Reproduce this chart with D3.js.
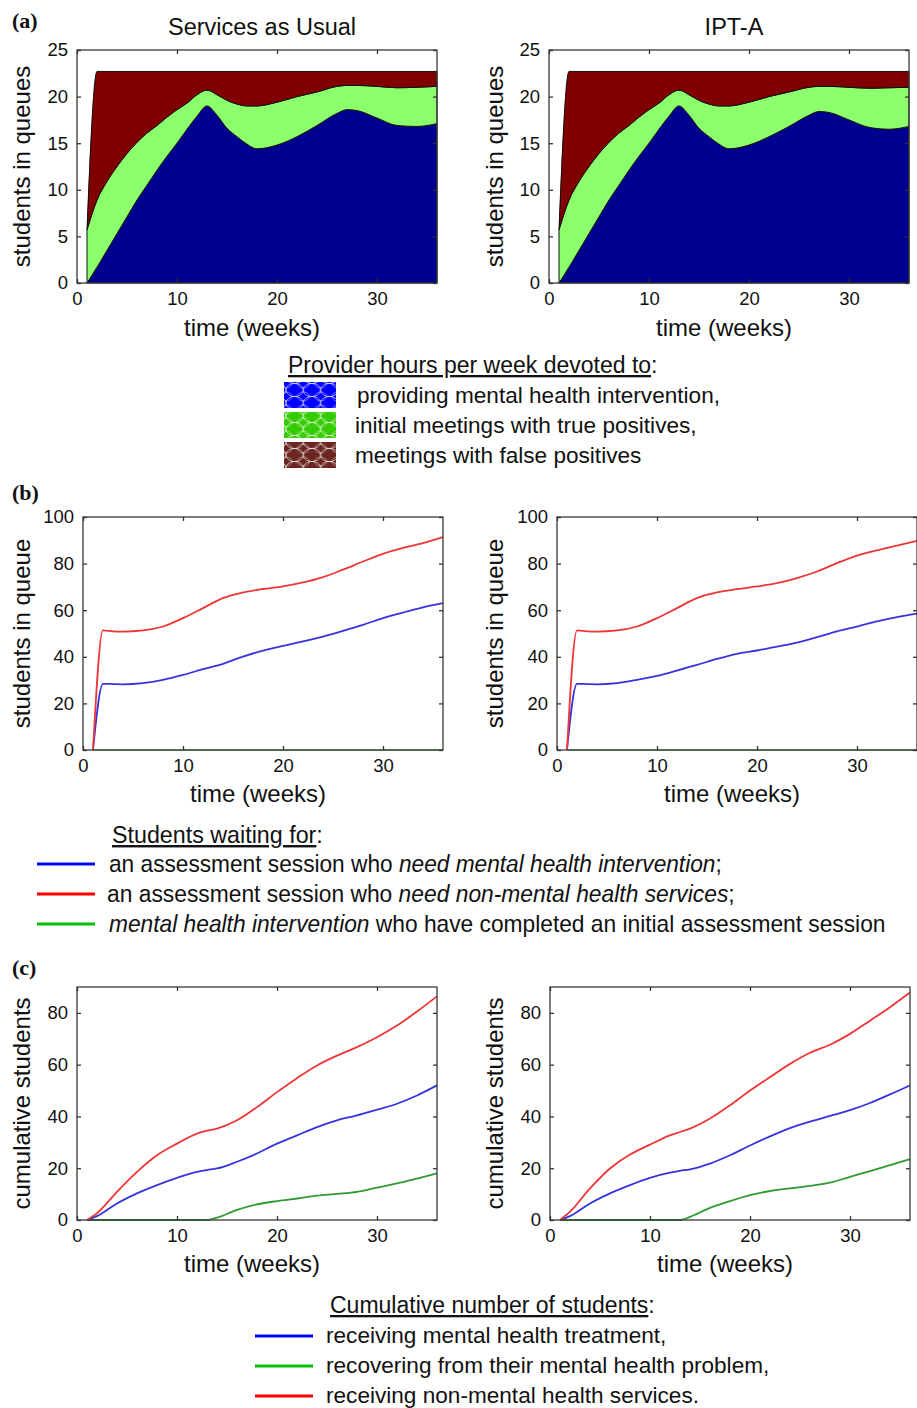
<!DOCTYPE html>
<html>
<head>
<meta charset="utf-8">
<script src="https://cdn.jsdelivr.net/npm/d3@7"></script>
<style>
body { margin: 0; background: #fff; }
svg text { font-family: "Liberation Sans", Arial, Helvetica, sans-serif; fill: #111; }
</style>
</head>
<body>
<script>
// (a) provider hours per week, stacked
const weeksA = [1, 2, 3, 4, 5, 6, 7, 8, 9, 10, 11, 12, 13, 14, 15, 16, 17, 18, 20, 22, 24, 26, 27, 28, 30, 32, 34, 36]
const sauIntervention = [0, 1.7, 3.5, 5.3, 7.1, 8.9, 10.5, 12.1, 13.6, 15.0, 16.5, 17.9, 19.0, 18.0, 16.6, 15.7, 14.9, 14.4, 14.8, 15.7, 16.9, 18.2, 18.6, 18.5, 17.7, 16.9, 16.8, 17.1]
const sauTruePos = [5.7, 7.2, 7.4, 7.2, 6.8, 6.2, 5.6, 4.8, 4.2, 3.6, 2.8, 2.3, 1.7, 2.2, 3.0, 3.5, 4.1, 4.6, 4.6, 4.3, 3.6, 2.9, 2.6, 2.7, 3.4, 4.05, 4.2, 4.0]
const sauFalsePos = [0, 13.8, 11.8, 10.2, 8.8, 7.6, 6.6, 5.8, 4.9, 4.1, 3.4, 2.5, 2.0, 2.5, 3.1, 3.5, 3.7, 3.7, 3.3, 2.7, 2.2, 1.6, 1.5, 1.5, 1.6, 1.75, 1.7, 1.6]
const iptIntervention = [0, 1.7, 3.5, 5.3, 7.1, 8.9, 10.5, 12.1, 13.6, 15.0, 16.5, 17.9, 19.0, 18.0, 16.6, 15.7, 14.9, 14.4, 14.8, 15.7, 16.8, 18.0, 18.4, 18.3, 17.5, 16.7, 16.5, 16.8]
const iptTruePos = [5.7, 7.2, 7.4, 7.2, 6.8, 6.2, 5.6, 4.8, 4.2, 3.6, 2.8, 2.3, 1.7, 2.2, 3.0, 3.5, 4.1, 4.6, 4.6, 4.3, 3.7, 3.0, 2.7, 2.8, 3.5, 4.2, 4.45, 4.2]
const iptFalsePos = [0, 13.8, 11.8, 10.2, 8.8, 7.6, 6.6, 5.8, 4.9, 4.1, 3.4, 2.5, 2.0, 2.5, 3.1, 3.5, 3.7, 3.7, 3.3, 2.7, 2.2, 1.7, 1.6, 1.6, 1.7, 1.8, 1.75, 1.7]

// (b) students waiting in queue
const weeksB = [1, 2, 3, 4, 6, 8, 10, 12, 14, 16, 18, 20, 22, 24, 26, 28, 30, 32, 34, 36]
const sauWaitMH = [0, 28.4, 28.3, 28.2, 28.7, 30.1, 32.2, 34.7, 37.0, 40.1, 42.7, 44.7, 46.6, 48.7, 51.1, 53.7, 56.6, 59.0, 61.2, 63.0]
const sauWaitNonMH = [0, 51.3, 50.9, 50.8, 51.3, 53.0, 56.6, 60.9, 65.2, 67.6, 69.1, 70.2, 71.9, 74.2, 77.4, 80.9, 84.2, 86.7, 88.8, 91.4]
const sauWaitTreat = [0, 0, 0, 0, 0, 0, 0, 0, 0, 0, 0, 0, 0, 0, 0, 0, 0, 0, 0, 0]
const iptWaitMH = [0, 28.4, 28.3, 28.2, 28.7, 30.1, 31.8, 34.1, 36.5, 39.1, 41.3, 42.7, 44.4, 46.1, 48.4, 50.9, 53.0, 55.2, 57.0, 58.5]
const iptWaitNonMH = [0, 51.3, 50.9, 50.8, 51.3, 53.0, 56.6, 60.9, 65.2, 67.6, 69.0, 70.2, 71.6, 73.8, 76.6, 80.2, 83.4, 85.7, 87.7, 89.8]
const iptWaitTreat = [0, 0, 0, 0, 0, 0, 0, 0, 0, 0, 0, 0, 0, 0, 0, 0, 0, 0, 0, 0]

// (c) cumulative students
const weeksC = [1, 2, 4, 6, 8, 10, 12, 13, 14, 16, 18, 20, 22, 24, 26, 28, 30, 32, 34, 36]
const sauCumTreated = [0, 1.5, 6.4, 10.3, 13.5, 16.3, 18.6, 19.3, 19.9, 22.5, 25.7, 29.5, 32.7, 35.9, 38.5, 40.4, 42.6, 44.9, 48.1, 52.0]
const sauCumRecovered = [0, 0, 0, 0, 0, 0, 0, 0, 0.9, 3.9, 6.0, 7.3, 8.3, 9.4, 10.1, 10.9, 12.5, 14.1, 16.0, 18.0]
const sauCumNonMH = [0, 2.6, 10.9, 18.6, 25.0, 29.5, 33.4, 34.5, 35.3, 38.5, 43.6, 49.4, 54.8, 59.7, 63.5, 66.8, 70.6, 75.1, 80.5, 86.4]
const iptCumTreated = [0, 1.5, 6.4, 10.3, 13.5, 16.3, 18.3, 19.0, 19.6, 21.8, 25.0, 28.8, 32.3, 35.5, 38.0, 40.2, 42.4, 45.2, 48.5, 52.0]
const iptCumRecovered = [0, 0, 0, 0, 0, 0, 0, 0, 1.2, 4.7, 7.3, 9.6, 11.2, 12.2, 13.2, 14.4, 16.7, 18.9, 21.2, 23.5]
const iptCumNonMH = [0, 3.2, 12.2, 19.9, 25.3, 29.1, 32.7, 34.0, 35.3, 39.2, 44.3, 50.0, 55.2, 60.3, 64.6, 67.7, 71.9, 77.0, 82.2, 87.9]

const xTicks = [0, 10, 20, 30]
const yTicksA = [0, 5, 10, 15, 20, 25]
const yTicksB = [0, 20, 40, 60, 80, 100]
const yTicksC = [0, 20, 40, 60, 80]

const svg = d3.select('body').append('svg')
    .attr('width', 917)
    .attr('height', 1408)

// white quatrefoil pattern for the legend swatches
const defs = svg.append('defs')
const swatchColors = { blue: '#0000ff', green: '#33cc00', brown: '#6b2621' }
Object.entries(swatchColors).forEach(function ([k, c]) {
    const p = defs.append('pattern')
        .attr('id', 'pat-' + k)
        .attr('patternUnits', 'userSpaceOnUse')
        .attr('width', 17.33).attr('height', 13)
    p.append('rect').attr('width', 17.33).attr('height', 13).attr('fill', c)
    const pts = [[0, 0], [17.33, 0], [0, 13], [17.33, 13]]
    pts.forEach(function (pt) {
        p.append('ellipse')
            .attr('cx', pt[0]).attr('cy', pt[1])
            .attr('rx', 8.7).attr('ry', 6.6)
            .attr('fill', 'none').attr('stroke', '#fff')
            .attr('stroke-opacity', 0.75).attr('stroke-width', 0.8)
    })
    p.append('ellipse')
        .attr('cx', 8.66).attr('cy', 6.5)
        .attr('rx', 6).attr('ry', 4.5)
        .attr('fill', 'none').attr('stroke', '#fff')
        .attr('stroke-opacity', 0.6).attr('stroke-width', 0.7)
})

function panel(o) {
    const x = d3.scaleLinear().domain([0, 36]).range([o.left, o.left + 360])
    const y = d3.scaleLinear().domain([0, o.ymax]).range([o.bottom, o.top])
    const g = svg.append('g')

    o.draw(g, x, y)

    g.append('rect')
        .attr('x', x(0)).attr('y', y(o.ymax))
        .attr('width', x(36) - x(0)).attr('height', y(0) - y(o.ymax))
        .attr('fill', 'none').attr('stroke', '#3a3a3a').attr('stroke-width', 1.3)

    g.append('g').attr('transform', 'translate(0,' + y(0) + ')')
        .call(d3.axisBottom(x).tickValues(xTicks).tickSizeInner(-4).tickSizeOuter(0).tickPadding(9))
    g.append('g').attr('transform', 'translate(' + x(0) + ',0)')
        .call(d3.axisLeft(y).tickValues(o.yTicks).tickSizeInner(-4).tickSizeOuter(0).tickPadding(9))
    g.append('g').attr('transform', 'translate(0,' + y(o.ymax) + ')')
        .call(d3.axisTop(x).tickValues(xTicks).tickSizeInner(-4).tickSizeOuter(0).tickFormat(''))
    g.append('g').attr('transform', 'translate(' + x(36) + ',0)')
        .call(d3.axisRight(y).tickValues(o.yTicks).tickSizeInner(-4).tickSizeOuter(0).tickFormat(''))

    g.selectAll('.domain').remove()
    g.selectAll('.tick line').attr('stroke', '#333').attr('stroke-width', 1.3)
    g.selectAll('.tick text')
        .attr('font-size', 18.5)
        .attr('font-family', '"Liberation Sans", Arial, sans-serif')
        .attr('fill', '#111')

    g.append('text')
        .attr('x', (x(0) + x(36)) / 2 - 5)
        .attr('y', o.bottom + o.xlabOff)
        .attr('text-anchor', 'middle')
        .attr('font-size', 24)
        .text('time (weeks)')

    g.append('text')
        .attr('transform', 'translate(' + (x(0) - o.ylabOff) + ',' + ((o.top + o.bottom) / 2) + ') rotate(-90)')
        .attr('text-anchor', 'middle')
        .attr('font-size', 24)
        .text(o.ylabel)

    if (o.title) {
        g.append('text')
            .attr('x', (x(0) + x(36)) / 2 + 5)
            .attr('y', 35)
            .attr('text-anchor', 'middle')
            .attr('font-size', 23.5)
            .text(o.title)
    }
}

function stackedAreas(blue, green, red) {
    return function (g, x, y) {
        const rows = weeksA.map(function (w, i) {
            return { week: w, intervention: blue[i], truePos: green[i], falsePos: red[i] }
        })
        const series = d3.stack().keys(['intervention', 'truePos', 'falsePos'])(rows)
        const fills = ['#000090', '#8cff6c', '#800000']
        const area = d3.area()
            .x(function (d) { return x(d.data.week) })
            .y0(function (d) { return y(d[0]) })
            .y1(function (d) { return y(d[1]) })
            .curve(d3.curveMonotoneX)
        g.selectAll('.layer')
            .data(series)
            .enter()
            .append('path')
            .attr('d', area)
            .attr('fill', function (d, i) { return fills[i] })
            .attr('stroke', '#111')
            .attr('stroke-width', 1)
    }
}

function lines(weeks, list) {
    return function (g, x, y) {
        list.forEach(function (s) {
            const line = d3.line()
                .x(function (d, i) { return x(weeks[i]) })
                .y(function (d) { return y(d) })
                .curve(d3.curveMonotoneX)
            g.append('path')
                .datum(s.values)
                .attr('d', line)
                .attr('fill', 'none')
                .attr('stroke', s.color)
                .attr('stroke-opacity', s.opacity || 1)
                .attr('stroke-width', 1.8)
        })
    }
}

const red = '#ee3636', blue = '#3535e0', green = '#2f9a2f'

panel({ left: 77, top: 50, bottom: 283, ymax: 25, yTicks: yTicksA, ylabel: 'students in queues', ylabOff: 47, xlabOff: 53,
    title: 'Services as Usual', draw: stackedAreas(sauIntervention, sauTruePos, sauFalsePos) })
panel({ left: 549, top: 50, bottom: 283, ymax: 25, yTicks: yTicksA, ylabel: 'students in queues', ylabOff: 46, xlabOff: 53,
    title: 'IPT-A', draw: stackedAreas(iptIntervention, iptTruePos, iptFalsePos) })

panel({ left: 83, top: 517, bottom: 750, ymax: 100, yTicks: yTicksB, ylabel: 'students in queue', ylabOff: 53, xlabOff: 52,
    draw: lines(weeksB, [
        { values: sauWaitTreat, color: '#6fb46f', opacity: 0.8 },
        { values: sauWaitMH, color: blue },
        { values: sauWaitNonMH, color: red }]) })
panel({ left: 557, top: 517, bottom: 750, ymax: 100, yTicks: yTicksB, ylabel: 'students in queue', ylabOff: 54, xlabOff: 52,
    draw: lines(weeksB, [
        { values: iptWaitTreat, color: '#6fb46f', opacity: 0.8 },
        { values: iptWaitMH, color: blue },
        { values: iptWaitNonMH, color: red }]) })

panel({ left: 77, top: 987, bottom: 1220, ymax: 90, yTicks: yTicksC, ylabel: 'cumulative students', ylabOff: 47, xlabOff: 52,
    draw: lines(weeksC, [
        { values: sauCumRecovered, color: green },
        { values: sauCumTreated, color: blue },
        { values: sauCumNonMH, color: red }]) })
panel({ left: 550, top: 987, bottom: 1220, ymax: 90, yTicks: yTicksC, ylabel: 'cumulative students', ylabOff: 47, xlabOff: 52,
    draw: lines(weeksC, [
        { values: iptCumRecovered, color: green },
        { values: iptCumTreated, color: blue },
        { values: iptCumNonMH, color: red }]) })

// panel letters
const letters = [['(a)', 28], ['(b)', 500], ['(c)', 975]]
letters.forEach(function (l) {
    svg.append('text')
        .attr('x', 12).attr('y', l[1])
        .attr('font-weight', 'bold')
        .attr('font-size', 22)
        .style('font-family', '"Liberation Serif", "Times New Roman", serif')
        .text(l[0])
})

// squeeze a text horizontally so it spans the given width (the figure uses a narrow face)
function squeeze(t, x0, y0, width) {
    const w = t.node().getComputedTextLength()
    t.attr('x', 0).attr('y', 0)
        .attr('transform', 'translate(' + x0 + ',' + y0 + ') scale(' + (width / w) + ',1)')
}

function header(xp, yp, size, label) {
    const t = svg.append('text').attr('x', xp).attr('y', yp).attr('font-size', size)
    t.append('tspan').style('text-decoration', 'underline').text(label)
    t.append('tspan').text(':')
    return t
}

// legend (a)
header(288, 373, 23, 'Provider hours per week devoted to')
const legendA = [
    ['blue', 'providing mental health intervention,', 357],
    ['green', 'initial meetings with true positives,', 355],
    ['brown', 'meetings with false positives', 355]
]
legendA.forEach(function (d, i) {
    svg.append('rect')
        .attr('x', 284).attr('y', 382 + i * 30)
        .attr('width', 52).attr('height', 26)
        .attr('fill', 'url(#pat-' + d[0] + ')')
    svg.append('text')
        .attr('x', d[2]).attr('y', 403 + i * 30)
        .attr('font-size', 22.6)
        .text(d[1])
})

// legend (b)
squeeze(header(0, 0, 24, 'Students waiting for'), 112, 843, 211)
const legendB = [
    ['#0000ff', 109, 613, [['an assessment session who ', false], ['need mental health intervention', true], [';', false]]],
    ['#ff0000', 107, 628, [['an assessment session who ', false], ['need non-mental health services', true], [';', false]]],
    ['#00c000', 109, 777, [['mental health intervention', true], [' who have completed an initial assessment session', false]]]
]
legendB.forEach(function (d, i) {
    const yy = 864 + i * 30
    svg.append('line')
        .attr('x1', 37).attr('x2', 95).attr('y1', yy).attr('y2', yy)
        .attr('stroke', d[0]).attr('stroke-width', 3)
    const t = svg.append('text').attr('font-size', 24)
    d[3].forEach(function (p) {
        t.append('tspan').attr('font-style', p[1] ? 'italic' : 'normal').text(p[0])
    })
    squeeze(t, d[1], yy + 8, d[2])
})

// legend (c)
header(330, 1313, 23, 'Cumulative number of students')
const legendC = [
    ['#0000ff', 'receiving mental health treatment,'],
    ['#00c000', 'recovering from their mental health problem,'],
    ['#ff0000', 'receiving non-mental health services.']
]
legendC.forEach(function (d, i) {
    const yy = 1336 + i * 30
    svg.append('line')
        .attr('x1', 255).attr('x2', 313).attr('y1', yy).attr('y2', yy)
        .attr('stroke', d[0]).attr('stroke-width', 3)
    svg.append('text')
        .attr('x', 326).attr('y', yy + 7)
        .attr('font-size', 22.6)
        .text(d[1])
})
</script>
</body>
</html>
